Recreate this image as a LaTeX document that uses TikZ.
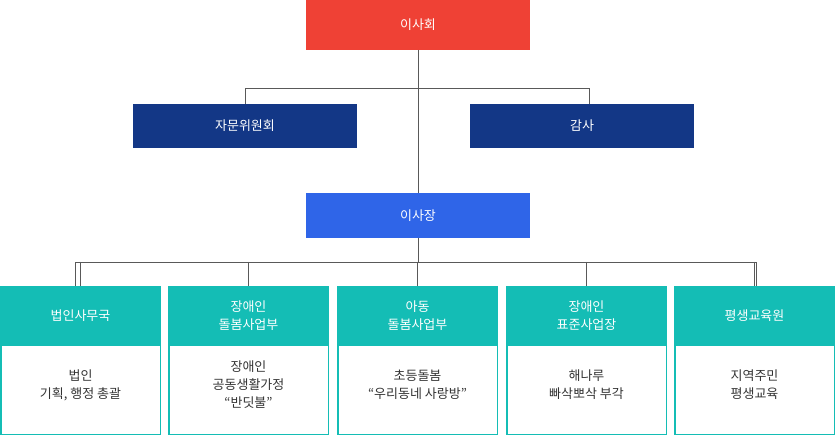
\documentclass[tikz,border=0pt]{standalone}
\usepackage{fontspec}
\setmainfont{Noto Sans CJK KR}
\definecolor{cred}{HTML}{EF4135}
\definecolor{cnavy}{HTML}{133786}
\definecolor{cblue}{HTML}{2F65E8}
\definecolor{cteal}{HTML}{14BDB5}
\definecolor{ctxt}{HTML}{333333}
\begin{document}
\begin{tikzpicture}[x=1pt,y=-1pt,
  box/.style={inner sep=0pt,align=center,text=white,font=\fontsize{13}{16}\selectfont},
  ln/.style={draw=black!65,line width=0.8pt}]
\useasboundingbox (0,0) rectangle (835,435);
\fill[cred] (306,0) rectangle (530,50);
\node[box] (a) at (418,25) {이사회};
\fill[cnavy] (133,104) rectangle (357,148);
\node[box] (b) at (245,126) {자문위원회};
\fill[cnavy] (470,104) rectangle (694,148);
\node[box] (c) at (582,126) {감사};
\fill[cblue] (306,193) rectangle (530,238);
\node[box] (d) at (418,215.5) {이사장};
\coordinate (top) at (418,50);
\coordinate (dt) at (418,193);
\coordinate (db) at (418,238);
\draw[ln] (top) -- (dt);
\draw[ln] (245,104) |- (589,88) -- (589,104);
\draw[ln] (db) -- (418,262);
\draw[ln] (75,286) |- (756,262) -- (756,286);
\foreach \cx/\h/\bd [count=\i] in {0/법인사무국/{법인\\기획, 행정 총괄},
  168/장애인\\돌봄사업부/{장애인\\공동생활가정\\“반딧불”},
  337/아동\\돌봄사업부/{초등돌봄\\“우리동네 사랑방”},
  506/장애인\\표준사업장/{해나루\\빠삭뽀삭 부각},
  674/평생교육원/{지역주민\\평생교육}}{
  \fill[cteal] (\cx,286) rectangle (\cx+161,345);
  \draw[cteal,line width=1.5pt] (\cx+0.75,345) rectangle (\cx+160.25,434.25);
  \node[box,font=\fontsize{13}{18}\selectfont] (h\i) at (\cx+80.5,315.5) {\h};
  \node[box,text=ctxt,font=\fontsize{13}{18}\selectfont] (t\i) at (\cx+80.5,385) {\bd};
  \draw[ln] (\cx+80.5,262) -- (\cx+80.5,286);
}
\end{tikzpicture}
\end{document}
